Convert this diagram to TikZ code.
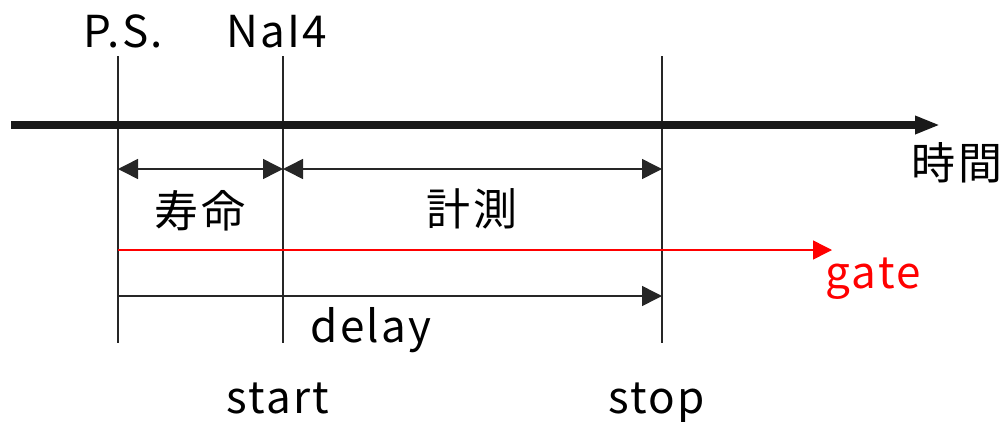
\documentclass[tikz,border=0pt]{standalone}
\usepackage{fontspec}
\setmainfont{Noto Sans CJK JP}[LetterSpace=5]
\usetikzlibrary{arrows.meta}
\begin{document}
\begin{tikzpicture}[x=1pt,y=-1pt,
  lbl/.style={anchor=base,inner sep=0pt,font=\fontsize{44}{50}\selectfont},
  tick/.style={line width=1.5pt,draw=black!85},
  dim/.style={line width=1.5pt,draw=black!85},
  axis/.style={line width=8.5pt,draw=black!90,-{Triangle[length=25pt,width=17pt]}}]
\useasboundingbox (0,0) rectangle (1007,421);
% coordinates
\coordinate (psT) at (118,56);  \coordinate (psB) at (118,343);
\coordinate (naT) at (283,56);  \coordinate (naB) at (283,343);
\coordinate (stT) at (662,56);  \coordinate (stB) at (662,343);
\coordinate (axL) at (11,125);  \coordinate (axR) at (940,125);
\coordinate (d1) at (118,169); \coordinate (d2) at (283,169); \coordinate (d3) at (662,169);
\coordinate (gL) at (118,250); \coordinate (gR) at (832,250);
\coordinate (yL) at (118,296); \coordinate (yR) at (662,296);
% vertical lines
\draw[tick] (psT) -- (psB);
\draw[tick] (naT) -- (naB);
\draw[tick] (stT) -- (stB);
% time axis
\draw[axis] (axL) -- (axR);
% dimension arrows
\draw[dim,{Triangle[length=20pt,width=20pt]}-{Triangle[length=20pt,width=20pt]}] (d1) -- (d2);
\draw[dim,{Triangle[length=20pt,width=20pt]}-{Triangle[length=20pt,width=20pt]}] (d2) -- (d3);
\draw[line width=1.5pt,draw=red,-{Triangle[length=19pt,width=19pt]},red] (gL) -- (gR);
\draw[dim,-{Triangle[length=20pt,width=20pt]}] (yL) -- (yR);
% labels
\node[lbl] (ps) at (123,47) {P.S.};
\node[lbl] (na) at (277,47) {NaI4};
\node[lbl] (life) at (200,227) {寿命};
\node[lbl] (meas) at (472,225) {計測};
\node[lbl] (time) at (957,179) {時間};
\node[lbl,text=red] (gate) at (873,288) {gate};
\node[lbl] (delay) at (371,342) {delay};
\node[lbl] (start) at (278,413) {start};
\node[lbl] (stop) at (657,413) {stop};
\end{tikzpicture}
\end{document}
